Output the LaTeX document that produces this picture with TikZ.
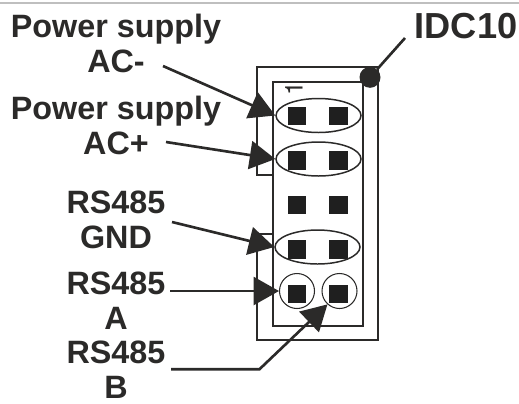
\documentclass[tikz,border=0pt]{standalone}
\usepackage{fontspec}
\setmainfont{Liberation Sans}
\newfontfamily\pinfont{TeX Gyre Heros}
\usetikzlibrary{arrows.meta, positioning, shapes.geometric}
\definecolor{inkdark}{HTML}{2B2A29}
\definecolor{paddark}{HTML}{1F1F1F}

\begin{document}
\begin{tikzpicture}[
        x=0.02cm, y=-0.02cm,
        lbl/.style={align=center, inner sep=0, text=inkdark, font=\fontsize{18.4}{19.9}\selectfont\bfseries},
        pad/.style={rectangle, fill=paddark, minimum size=0.37cm, inner sep=0},
        ring/.style={ellipse, draw=inkdark, line width=0.85pt, minimum width=1.7cm, minimum height=0.68cm, inner sep=0},
        pin/.style={circle, draw=inkdark, line width=0.6pt, minimum size=0.7cm, inner sep=0},
        wall/.style={draw=inkdark, line width=1pt},
        lead/.style={draw=inkdark, line width=1.5pt},
        >={Triangle[length=14.5pt, width=16pt]}
      ]
      \useasboundingbox (0,0) rectangle (519,403);

      % Top rule
      \draw[black!25, line width=0.8pt] (0,3) -- (519,3);

      % Connector body
      \draw[wall] (272.7,175.3) -- (257.3,175.3) -- (257.3,66.7) -- (377.7,66.7)
        -- (377.7,340) -- (257.3,340) -- (257.3,234) -- (272.7,234);
      \draw[wall] (272.7,82) rectangle (363.3,326);
      \node[rotate=90, inner sep=0, text=inkdark, font=\fontsize{14}{14}\selectfont\pinfont] (pinone) at (294,89) {1};
      \node[circle, fill=inkdark, minimum size=0.42cm, inner sep=0] (corner) at (370,77.3) {};

      % Pads
      \node[pad] (p1a) at (297,116) {};
      \node[pad, right=0.45cm of p1a] (p1b) {};
      \node[pad, below=0.505cm of p1a] (p2a) {};
      \node[pad, right=0.45cm of p2a] (p2b) {};
      \node[pad, below=0.505cm of p2a] (p3a) {};
      \node[pad, right=0.45cm of p3a] (p3b) {};
      \node[pad, below=0.505cm of p3a] (p4a) {};
      \node[pad, right=0.45cm of p4a] (p4b) {};
      \node[pad, below=0.505cm of p4a] (p5a) {};
      \node[pad, right=0.45cm of p5a] (p5b) {};

      % Marks round the pads
      \node[ring] (acminus) at (318.5,115.5) {};
      \node[ring] (acplus) at (318.5,159) {};
      \node[ring] (gnd) at (317.5,247) {};
      \node[pin] (rsa) at (297,291) {};
      \node[pin] (rsb) at (339.5,291) {};

      % Labels
      \node[lbl] (lacminus) at (116,43.7) {Power supply\\AC-};
      \node[lbl] (lacplus) at (116,125.7) {Power supply\\AC+};
      \node[lbl] (lgnd) at (116,219.8) {RS485\\GND};
      \node[lbl] (lrsa) at (116,300.5) {RS485\\A};
      \node[lbl] (lrsb) at (116,369.5) {RS485\\B};
      \node[lbl, anchor=base, font=\fontsize{20.6}{22}\selectfont\bfseries] (lidc) at (466,38) {IDC10};

      % Free ends of the leads
      \coordinate (sacminus) at (163,66);
      \coordinate (sacplus) at (166,142);
      \coordinate (sgnd) at (172,222);
      \coordinate (srsa) at (170,291);
      \coordinate (srsb) at (171,369.3);
      \coordinate (bend) at (259.4,369.3);
      \coordinate (sidc) at (405,38);

      % Leads
      \draw[lead, ->] (sacminus) -- (acminus.west);
      \draw[lead, ->] (sacplus) -- (acplus.west);
      \draw[lead, ->] (sgnd) -- (gnd.west);
      \draw[lead, ->] (srsa) -- (rsa.west);
      \draw[lead, ->] (srsb) -- (bend) -- (rsb.228);
      \draw[lead] (sidc) -- (corner);

      \end{tikzpicture}
\end{document}
